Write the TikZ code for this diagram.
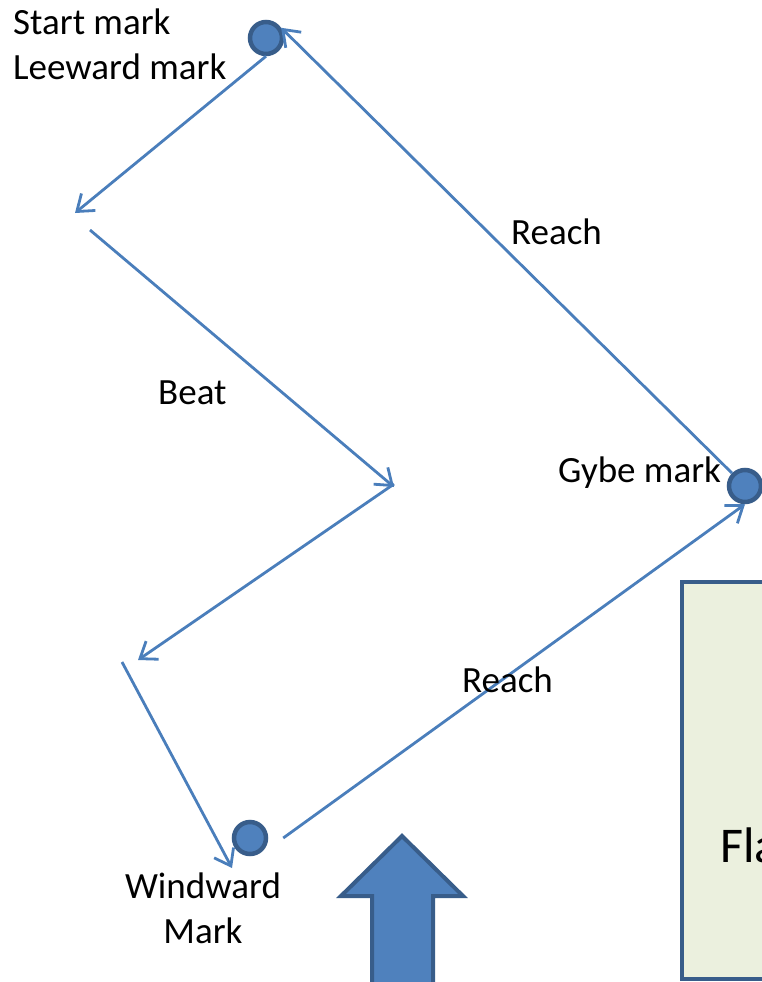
\documentclass[tikz,border=0pt]{standalone}
\usepackage{fontspec}
\setmainfont{Carlito}
\usetikzlibrary{arrows.meta}
\definecolor{legblue}{HTML}{4A7EBB}
\definecolor{buoyfill}{HTML}{4F81BD}
\definecolor{buoyline}{HTML}{385D8A}
\definecolor{landfill}{HTML}{EBF0DE}
\begin{document}
\begin{tikzpicture}
	[x=1pt, y=-1pt,
	buoy/.style = {draw=buoyline, fill=buoyfill, circle,
	line width=4.5pt, minimum size=32pt, inner sep=0pt},
	leg/.style = {draw=legblue, line width=2.8pt,
	-{Straight Barb[length=15pt,width=22pt]}},
	lbl/.style = {font=\fontsize{37}{45}\selectfont, inner sep=0pt}]
	\useasboundingbox (0,0) rectangle (762,982);
	\clip (0,0) rectangle (762,982);
	% land and wind
	\draw[buoyline, fill=landfill, line width=4pt] (682,582) rectangle (820,979);
	\node[anchor=base west, inner sep=0pt, font=\fontsize{50}{60}\selectfont] (land) at (720,862) {Fla};
	\draw[buoyline, fill=buoyfill, line width=4pt]
		(402,836) -- (463,896) -- (433,896) -- (433,990) -- (372,990) -- (372,896) -- (341,896) -- cycle;
	% marks
	\node[buoy] (start) at (266,38) {};
	\node[buoy] (gybe) at (745,486) {};
	\node[buoy] (windward) at (250,838) {};
	\coordinate (a) at (75,213);
	\coordinate (b) at (90,230);
	\coordinate (c) at (394,487);
	\coordinate (d) at (138,660);
	\coordinate (e) at (122,662);
	\coordinate (f) at (232,868);
	% legs
	\draw[leg] (start.south) -- (a);
	\draw[leg] (b) -- (c);
	\draw[leg] ([yshift=3pt]c) -- (d);
	\draw[leg] (e) -- (f);
	\draw[leg] ([xshift=15pt]windward.east) -- (gybe.south);
	\draw[leg] (gybe) -- (start.34);
	% labels
	\node[lbl, anchor=base west] (startlbl) at (13,35) {Start mark};
	\node[lbl, anchor=base west] (leewardlbl) at (13,80) {Leeward mark};
	\node[lbl, anchor=base west] (reach1) at (511,244) {Reach};
	\node[lbl, anchor=base west] (beat) at (158,404) {Beat};
	\node[lbl, anchor=base west] (gybelbl) at (558,482) {Gybe mark};
	\node[lbl, anchor=base west] (reach2) at (462,692) {Reach};
	\node[lbl, anchor=base] (windlbl) at (203,898) {Windward};
	\node[lbl, anchor=base] (marklbl) at (203,943) {Mark};
\end{tikzpicture}
\end{document}
